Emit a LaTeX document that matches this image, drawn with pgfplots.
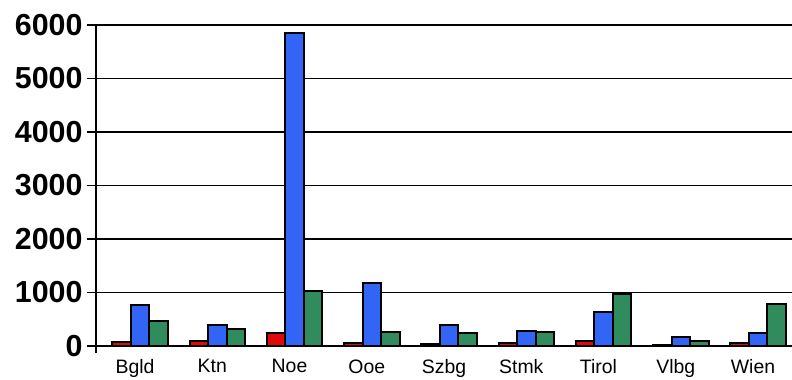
\documentclass[border=0pt]{standalone}
\usepackage{pgfplots}
\pgfplotsset{compat=1.18}
\usepackage{fontspec}
\setmainfont{Liberation Sans}

\definecolor{barred}{RGB}{225,10,10}
\definecolor{barblue}{RGB}{50,100,245}
\definecolor{bargreen}{RGB}{48,140,92}

% Series per state: positions 0..8 = Bgld, Ktn, Noe, Ooe, Szbg, Stmk, Tirol, Vlbg, Wien
\pgfplotstableread{
x red blue green
0 75 766 467
1 100 393 312
2 240 5845 1028
3 60 1183 268
4 40 393 249
5 50 280 268
6 90 630 972
7 20 174 93
8 50 249 785
}\datatable

\begin{document}
\begin{tikzpicture}
\begin{axis}[
  scale only axis,
  width=696bp, height=321bp,
  xmin=-0.57, xmax=8.44,
  ymin=0, ymax=6000,
  ytick={0,1000,...,6000},
  xtick={0,...,8},
  xticklabels={Bgld,Ktn,Noe,Ooe,Szbg,Stmk,Tirol,Vlbg,Wien},
  axis x line=bottom,
  axis y line=left,
  axis line style={line width=1.8bp,-},
  y axis line style={shorten <=-7bp},
  x axis line style={draw=none},
  ymajorgrids,
  grid style={black,line width=1.5bp},
  ytick style={line width=1.5bp,black},
  xtick style={draw=none},
  tick align=outside,
  major tick length=9bp,
  yticklabel style={font=\fontsize{30.5}{31}\selectfont\bfseries, xshift=-1bp},
  xticklabel style={font=\fontsize{19.5}{20}\selectfont, xshift=-5bp, yshift=-1bp},
  /pgf/number format/assume math mode=true,
  /pgf/number format/1000 sep={},
  ybar=0pt,
  bar width=18.5bp,
  every axis plot/.append style={draw=black, line width=2bp},
  clip=false,
]
\addplot[fill=barred] table[x=x,y=red] {\datatable};
\addplot[fill=barblue] table[x=x,y=blue] {\datatable};
\addplot[fill=bargreen] table[x=x,y=green] {\datatable};
\end{axis}
\pgfresetboundingbox
\path (-96bp,-34bp) rectangle (696bp,346bp);
\end{tikzpicture}
\end{document}
